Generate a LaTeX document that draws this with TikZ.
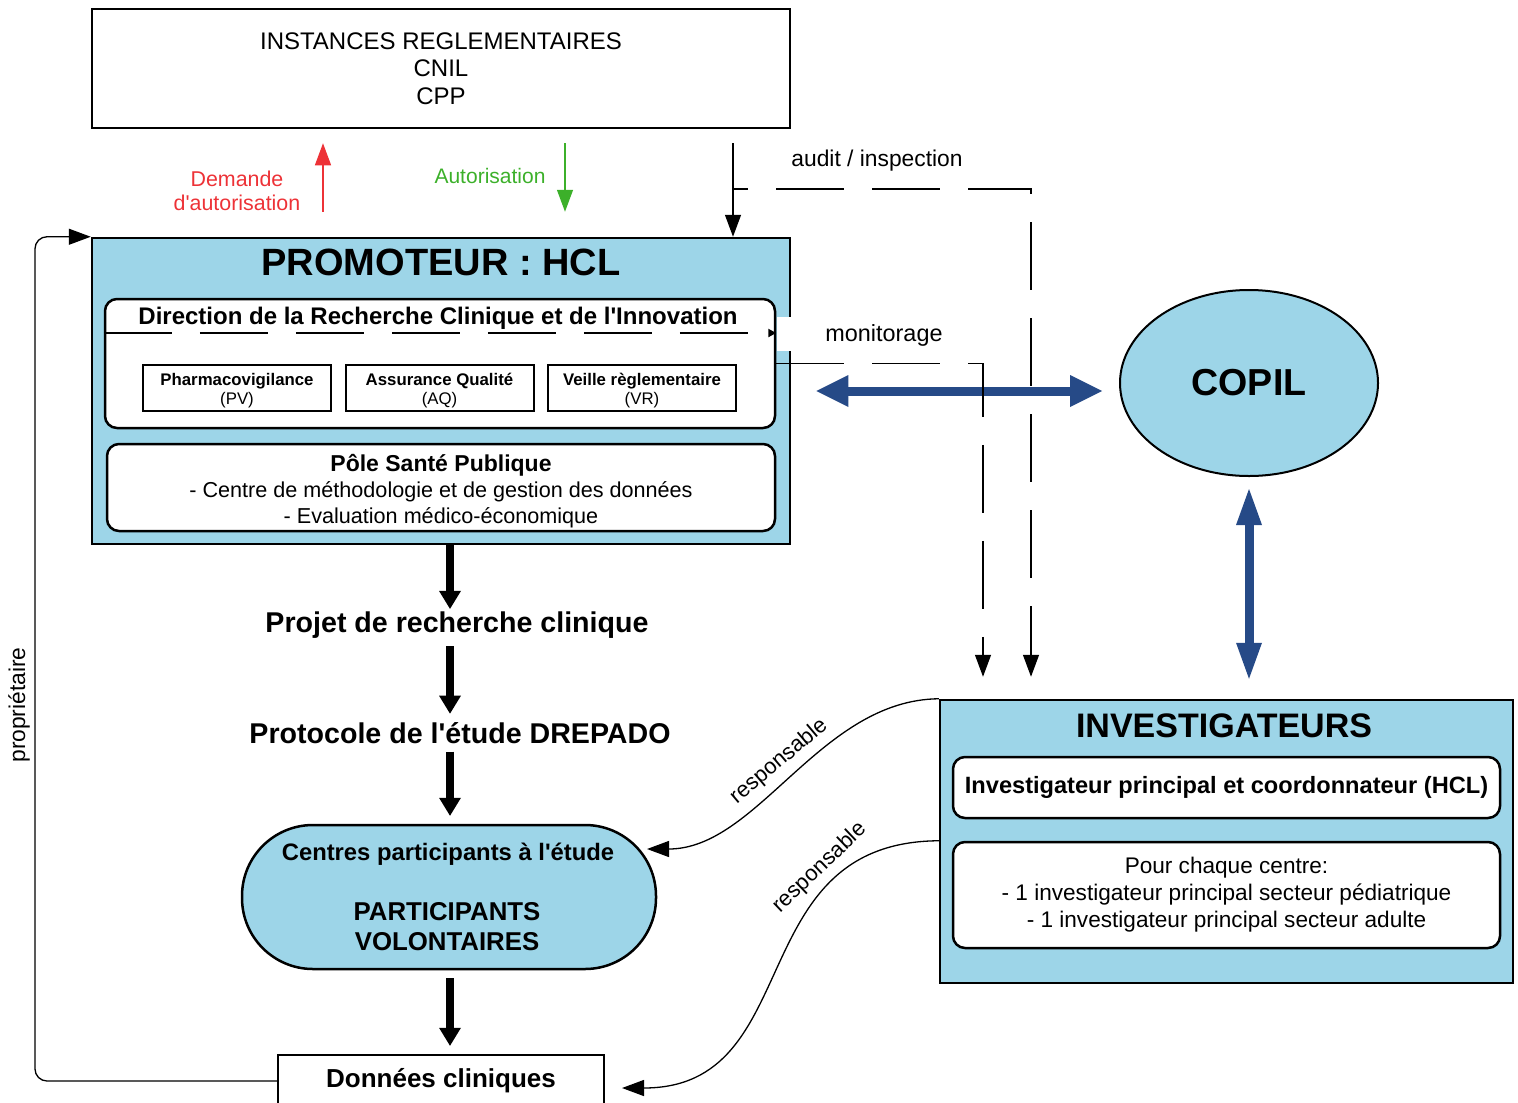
\documentclass[tikz,border=0pt]{standalone}
\usepackage{fontspec}
\setmainfont{Liberation Sans}[Ligatures=TeXOff]
\usetikzlibrary{arrows.meta,shapes.geometric}
\definecolor{hclblue}{RGB}{157,213,232}
\definecolor{copilblue}{RGB}{38,74,135}
\definecolor{demred}{RGB}{237,50,55}
\definecolor{autgreen}{RGB}{60,176,42}
\tikzstyle{bluebox} = [draw=black, fill=hclblue, line width=1.25pt,
    rectangle, inner sep=0pt]
\tikzstyle{whitebox} = [draw=black, fill=white, line width=1.25pt,
    rectangle, rounded corners=6pt, inner sep=0pt, align=center]
\tikzstyle{unitbox} = [draw=black, fill=white, line width=1pt, rectangle,
    inner sep=0pt, align=center, minimum width=94pt, minimum height=23pt,
    font=\fontsize{8.4}{9.5}\selectfont]
\tikzstyle{steptext} = [inner sep=0pt, anchor=base,
    font=\fontsize{14.3}{16}\selectfont\bfseries]
\tikzstyle{smalltext} = [inner sep=0pt, font=\fontsize{11.4}{13}\selectfont]
\tikzstyle{bigarrow} = [line width=4pt,
    -{Triangle[length=9pt,width=11pt,line width=0pt]},
    shorten <=4pt, shorten >=4pt]
\tikzstyle{thinarrow} = [line width=0.65pt, -{Triangle[length=11pt,width=8pt]}]
\tikzstyle{dashline} = [thinarrow, dash pattern=on 34pt off 14pt]
\tikzstyle{dblarrow} = [copilblue, line width=4.5pt,
    {Triangle[length=16pt,width=16pt,line width=0pt]}-{Triangle[length=16pt,width=16pt,line width=0pt]}]
\tikzstyle{dblarrowv} = [copilblue, line width=4.5pt,
    {Triangle[length=18pt,width=13pt,line width=0pt]}-{Triangle[length=18pt,width=13pt,line width=0pt]}]

\begin{document}
\begin{tikzpicture}[x=0.5pt, y=-0.5pt]
    \useasboundingbox (0,0) rectangle (1518,1102);

    % instances reglementaires
    \node [draw=black, line width=1.25pt, minimum width=349pt, minimum height=59.5pt,
        align=center, inner sep=0pt, font=\fontsize{12}{13.75}\selectfont]
        (instances) at (441,68.5) {INSTANCES REGLEMENTAIRES\\CNIL\\CPP};

    % promoteur
    \node [bluebox, minimum width=349pt, minimum height=153pt] (promoteur) at (441,391) {};
    \node [anchor=base, inner sep=0pt, font=\fontsize{19}{21}\selectfont\bfseries]
        (promotitle) at (441,275) {PROMOTEUR : HCL};
    \node [whitebox, minimum width=335pt, minimum height=64.5pt] (drci) at (440,363.5) {};
    \node [anchor=base, inner sep=0pt, font=\fontsize{12}{14}\selectfont\bfseries]
        (drcititle) at (438,324) {Direction de la Recherche Clinique et de l'Innovation};
    \node [unitbox] (pv) at (237,388) {\rule{0pt}{9pt}\textbf{Pharmacovigilance}\\(PV)};
    \node [unitbox] (aq) at (439.5,388) {\rule{0pt}{9pt}\textbf{Assurance Qualité}\\(AQ)};
    \node [unitbox] (vr) at (642,388) {\rule{0pt}{9pt}\textbf{Veille règlementaire}\\(VR)};
    \node [whitebox, minimum width=334pt, minimum height=43.5pt,
        font=\fontsize{10.8}{13}\selectfont] (pole) at (441,487.5)
        {\rule{0pt}{12pt}{\fontsize{11.5}{13}\selectfont\bfseries Pôle Santé Publique}\\- Centre de méthodologie et de gestion des données\\- Evaluation médico-économique};
    \fill [white] (777,317) rectangle (792,351);
    \draw [line width=1.2pt, dash pattern=on 34pt off 14pt,
        -{Triangle[length=4pt,width=4pt]}]
        ([yshift=15.25pt]drci.west) -- ([yshift=15.25pt]drci.east);

    % etapes
    \node [steptext] (projet) at (457,632) {Projet de recherche clinique};
    \node [steptext] (protocole) at (460,743) {Protocole de l'étude DREPADO};
    \node [bluebox, rounded corners=35.5pt, minimum width=207pt, minimum height=72pt]
        (participants) at (449,897) {};
    \node [anchor=base, inner sep=0pt, font=\fontsize{11.9}{14}\selectfont\bfseries]
        (centres) at (448,860) {Centres participants à l'étude};
    \node [align=center, inner sep=0pt, font=\fontsize{12.9}{15}\selectfont\bfseries]
        (volontaires) at (447,927) {PARTICIPANTS\\VOLONTAIRES};
    \node [draw=black, fill=white, line width=1.25pt, minimum width=163pt,
        minimum height=26pt, inner sep=0pt, font=\fontsize{13}{15}\selectfont\bfseries]
        (donnees) at (441,1081) {Données cliniques};

    % copil et investigateurs
    \node [ellipse, draw=black, fill=hclblue, line width=1pt, minimum width=129pt,
        minimum height=93pt, inner sep=0pt, font=\fontsize{18.8}{21}\selectfont\bfseries]
        (copil) at (1249,383) {COPIL};
    \node [bluebox, minimum width=286.5pt, minimum height=141.5pt] (invest) at (1226.5,841.5) {};
    \node [anchor=base, inner sep=0pt, font=\fontsize{17}{19}\selectfont\bfseries]
        (investtitle) at (1224,737) {INVESTIGATEURS};
    \node [whitebox, minimum width=273.5pt, minimum height=30.5pt,
        font=\fontsize{11.8}{14}\selectfont\bfseries] (ipc) at (1226.5,787.5)
        {Investigateur principal et coordonnateur (HCL)};
    \node [whitebox, minimum width=273.5pt, minimum height=53pt,
        font=\fontsize{11.3}{13.5}\selectfont] (pcc) at (1226.5,895)
        {Pour chaque centre:\\- 1 investigateur principal secteur pédiatrique\\- 1 investigateur principal secteur adulte};

    % fleches principales
    \coordinate (col) at (450,0);
    \draw [bigarrow, shorten <=0pt, shorten >=1pt] (col |- promoteur.south) -- (col |- projet.north);
    \draw [bigarrow] (col |- projet.south) -- (col |- protocole.north);
    \draw [bigarrow] (col |- protocole.south) -- (col |- participants.north);
    \draw [bigarrow] (col |- participants.south) -- (col |- donnees.north);
    \draw [dblarrow, shorten <=12.5pt, shorten >=8.5pt] (promoteur.east) -- (promoteur.east -| copil.west);
    \draw [dblarrowv, shorten <=6pt, shorten >=10pt] (copil.south) -- (copil.south |- invest.north);

    % autorisations
    \coordinate (dem) at (323,0);
    \coordinate (aut) at (565,0);
    \coordinate (aud) at (733,0);
    \draw [thinarrow, demred, shorten <=12.5pt, shorten >=7pt] (dem |- promoteur.north) -- (dem |- instances.south);
    \node [font=\fontsize{10.7}{12.2}\selectfont, text=demred, align=center, inner sep=0pt]
        (demande) at (237,191) {Demande\\d'autorisation};
    \draw [thinarrow, autgreen, shorten <=7pt, shorten >=12.5pt] (aut |- instances.south) -- (aut |- promoteur.north);
    \node [font=\fontsize{10.5}{12}\selectfont, text=autgreen, anchor=base, inner sep=0pt]
        (autorisation) at (490,183) {Autorisation};
    \draw [thinarrow, shorten <=7pt] (aud |- instances.south) -- (aud |- promoteur.north);

    % audit et monitorage
    \coordinate (audbend) at (733,189);
    \coordinate (audcorner) at (1031,189);
    \coordinate (moncorner) at (983,363);
    \draw [dashline, dash phase=26.5pt, shorten >=11pt] (audbend) -- (audcorner) -- (audcorner |- invest.north);
    \node [smalltext, anchor=base] (audit) at (877,166) {audit / inspection};
    \draw [dashline, shorten >=11pt] (drci.east) -- (drci.east -| moncorner) -- (moncorner |- invest.north);
    \node [smalltext, anchor=base, font=\fontsize{11.7}{13}\selectfont] (monitorage) at (884,341) {monitorage};

    % proprietaire
    \coordinate (loop) at (35,0);
    \draw [thinarrow, rounded corners=6pt] (donnees.west) -| (loop |- promoteur.north) -- (promoteur.north west);
    \node [smalltext, rotate=90] (proprietaire) at (19,705) {propriétaire};

    % responsable
    \coordinate (parttip) at (647,849);
    \coordinate (datatip) at (622,1088);
    \draw [thinarrow] (invest.north west) .. controls (820,700) and (758,849) .. (parttip)
        node [midway, sloped, above, inner sep=3pt, font=\fontsize{11}{13}\selectfont] {responsable};
    \draw [thinarrow] (pcc.north -| invest.west) .. controls (740,842) and (808,1088) .. (datatip)
        node [pos=0.25, sloped, above, inner sep=3pt, font=\fontsize{11}{13}\selectfont] {responsable};
\end{tikzpicture}
\end{document}
